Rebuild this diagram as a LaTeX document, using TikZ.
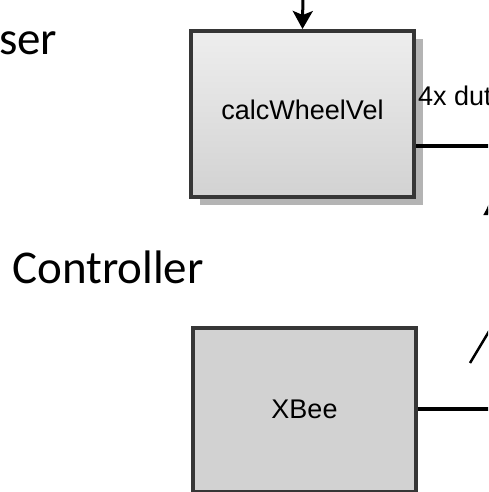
\documentclass[tikz,border=0pt]{standalone}
\usepackage{fontspec}
\setmainfont{Liberation Sans}
\newfontfamily\calfont{Carlito}
\usetikzlibrary{arrows.meta,shadows}
\definecolor{bordc}{HTML}{363636}
\definecolor{shadc}{HTML}{B4B4B4}
\definecolor{topc}{HTML}{EEEEEE}
\definecolor{botc}{HTML}{D2D2D2}
\definecolor{flatc}{HTML}{D2D2D2}
\tikzset{
  blockbox/.style={draw=bordc, line width=4pt, minimum width=223pt, inner sep=0pt,
    font=\fontsize{27}{30}\selectfont},
  wire/.style={line width=3.5pt, black},
  bigtitle/.style={font=\calfont\fontsize{47}{50}\selectfont, inner sep=0pt, anchor=base west},
  smalllabel/.style={font=\fontsize{27}{30}\selectfont, inner sep=0pt, anchor=base west}
}
\begin{document}
\begin{tikzpicture}[x=1pt,y=-1pt]
\useasboundingbox (0,0) rectangle (488,492);
\clip (0,0) rectangle (488,492);
% titles
\node[bigtitle] (ser) at (-1,55) {ser};
\node[bigtitle] (ctrl) at (12,283) {Controller};
% blocks
\node[blockbox, minimum height=166pt, top color=topc, bottom color=botc,
      drop shadow={shadow xshift=9pt, shadow yshift=-8pt, fill=shadc, opacity=1},
      text height=19.7pt, text depth=9.7pt] (calc) at (302.5,114) {calcWheelVel};
\node[blockbox, minimum height=164pt, fill=flatc,
      text height=19.4pt, text depth=3.4pt] (xbee) at (304.5,410) {XBee};
% top incoming arrow
\coordinate (topin) at (303,-10);
\draw[line width=3pt, -{Stealth[length=18pt, width=20pt, inset=4pt]}] (topin) -- (calc.north);
% output of calcWheelVel
\coordinate (calcout) at (500,146);
\draw[wire] (calc.east |- calcout) -- (calcout);
\node[smalllabel] (duty) at (418,106) {4x dut};
% upward arrowhead at right edge
\coordinate (uptail) at (490,260);
\coordinate (uptip) at (490,199);
\draw[line width=3pt, -{Latex[length=16pt, width=14pt]}] (uptail) -- (uptip);
% diagonal line
\coordinate (diagA) at (470,363);
\coordinate (diagB) at (506,303);
\draw[line width=2.5pt, black] (diagA) -- (diagB);
% output of XBee
\coordinate (xbeeout) at (500,409);
\draw[wire] (xbee.east |- xbeeout) -- (xbeeout);
\end{tikzpicture}
\end{document}
